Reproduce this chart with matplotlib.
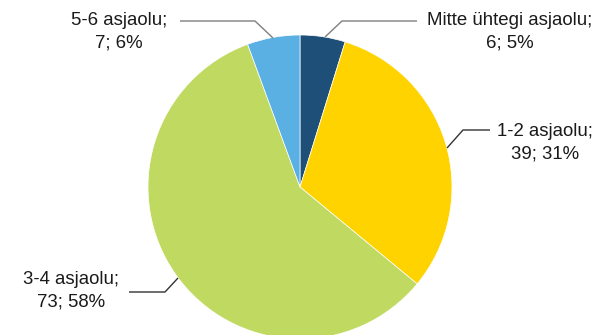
import matplotlib.pyplot as plt

plt.rcParams['font.family'] = ['Liberation Sans', 'DejaVu Sans']

# Data (order: clockwise from top)
categories = ['Mitte ühtegi asjaolu', '1-2 asjaolu', '3-4 asjaolu', '5-6 asjaolu']
counts = [6, 39, 73, 7]
percents = [5, 31, 58, 6]
colors = ['#1D4F79', '#FFD300', '#BFD961', '#5AB0E3']

W, H = 598, 335

fig = plt.figure(figsize=(W / 100, H / 100), dpi=100)
ax = fig.add_axes([0, 0, 1, 1])
ax.axis('off')

ax.pie(counts, colors=colors, startangle=90, counterclock=False,
       center=(300, H - 187), radius=152,
       wedgeprops=dict(linewidth=0.5, edgecolor='white'))
ax.set_xlim(0, W)
ax.set_ylim(0, H)
ax.set_aspect('auto')

# label positions (pixel coords from top) and leader paths
label_pos = [(510, 32), (545, 143), (71, 291), (119, 32)]
leaders = [
    [(325, 37), (342, 21), (417, 21)],
    [(447, 148), (463, 130), (490, 130)],
    [(178, 278), (165, 292), (129, 292)],
    [(273, 38), (255, 21), (180, 21)],
]
line_colors = ['#7F7F7F', '#333333', '#333333', '#7F7F7F']

for cat, n, p, (lx, ly), path, lc in zip(categories, counts, percents,
                                          label_pos, leaders, line_colors):
    ax.text(lx, H - ly, f'{cat};\n{n}; {p}%', ha='center', va='center',
            fontsize=13.4, color='#1A1A1A', linespacing=1.45)
    xs = [pt[0] for pt in path]
    ys = [H - pt[1] for pt in path]
    ax.plot(xs, ys, color=lc, linewidth=1.0, solid_capstyle='butt')

fig.savefig('out.png', dpi=100)
